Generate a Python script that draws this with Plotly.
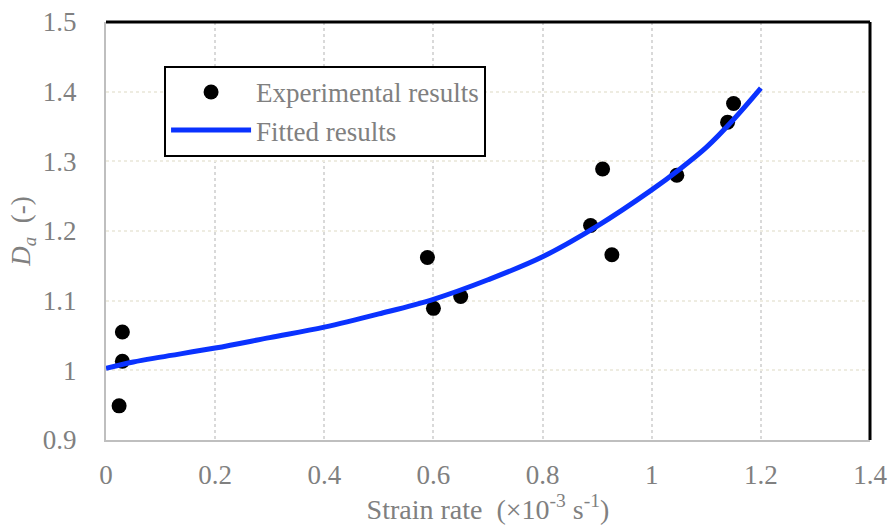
import plotly.graph_objects as go

# Experimental data
exp_x = [0.024, 0.030, 0.030, 0.589, 0.600, 0.650, 0.888, 0.910, 0.927, 1.046, 1.139, 1.150]
exp_y = [0.949, 1.013, 1.055, 1.162, 1.089, 1.106, 1.208, 1.289, 1.166, 1.280, 1.356, 1.383]

# Fitted curve
fit_x = [0, 0.05, 0.1, 0.2, 0.3, 0.4, 0.5, 0.6, 0.7, 0.8, 0.9, 1.0, 1.05, 1.1, 1.15, 1.2]
fit_y = [1.003, 1.012, 1.019, 1.032, 1.047, 1.062, 1.081, 1.102, 1.130, 1.163, 1.207, 1.259,
         1.288, 1.320, 1.360, 1.405]

x_ticks = [0, 0.2, 0.4, 0.6, 0.8, 1, 1.2, 1.4]
x_tick_labels = ["0", "0.2", "0.4", "0.6", "0.8", "1", "1.2", "1.4"]
y_ticks = [0.9, 1, 1.1, 1.2, 1.3, 1.4, 1.5]
y_tick_labels = ["0.9", "1", "1.1", "1.2", "1.3", "1.4", "1.5"]

FONT = "Liberation Serif, Times New Roman, serif"
GRAY = "#808080"

fig = go.Figure()
fig.add_trace(go.Scatter(
    x=exp_x, y=exp_y, mode="markers", name="Experimental results",
    marker=dict(color="black", size=15, line=dict(width=0)),
))
fig.add_trace(go.Scatter(
    x=fit_x, y=fit_y, mode="lines", name="Fitted results",
    line=dict(color="#0a32ff", width=5, shape="spline"),
))

fig.update_layout(
    width=888, height=528,
    margin=dict(l=106, r=18, t=22, b=88, autoexpand=False),
    paper_bgcolor="white", plot_bgcolor="white",
    font=dict(family=FONT, color=GRAY, size=27),
    showlegend=True,
    legend=dict(
        x=0.076, y=0.895, xanchor="left", yanchor="top",
        bordercolor="black", borderwidth=2, bgcolor="white",
        font=dict(family=FONT, size=27, color=GRAY),
        itemwidth=80, tracegroupgap=0,
    ),
    xaxis=dict(
        range=[0, 1.4], tickvals=x_ticks, ticktext=x_tick_labels,
        showline=True, linecolor="#bfbfbf", linewidth=2, automargin=False,
        showgrid=True, gridcolor="#d9d9d9", gridwidth=2, griddash="dot",
        zeroline=False, ticks="", ticklabelstandoff=10,
        tickfont=dict(family=FONT, size=27, color=GRAY),
        title=dict(text="Strain rate  (×10<sup>-3</sup> s<sup>-1</sup>)",
                   font=dict(family=FONT, size=28, color=GRAY), standoff=4),
    ),
    yaxis=dict(
        range=[0.9, 1.5], tickvals=y_ticks, ticktext=y_tick_labels,
        showline=True, linecolor="#bfbfbf", linewidth=2, automargin=False,
        showgrid=True, gridcolor="#eeece1", gridwidth=2, griddash="dot",
        zeroline=False, ticks="", ticklabelstandoff=22,
        tickfont=dict(family=FONT, size=27, color=GRAY),
        title=dict(text="<i>D<sub>a</sub></i>  (-)",
                   font=dict(family=FONT, size=27, color=GRAY), standoff=4),
    ),
    shapes=[
        dict(type="line", xref="paper", yref="paper", x0=0, x1=1, y0=1, y1=1,
             line=dict(color="black", width=3)),
        dict(type="line", xref="paper", yref="paper", x0=1, x1=1, y0=0, y1=1,
             line=dict(color="black", width=3)),
    ],
)

fig.write_html("out.html")
